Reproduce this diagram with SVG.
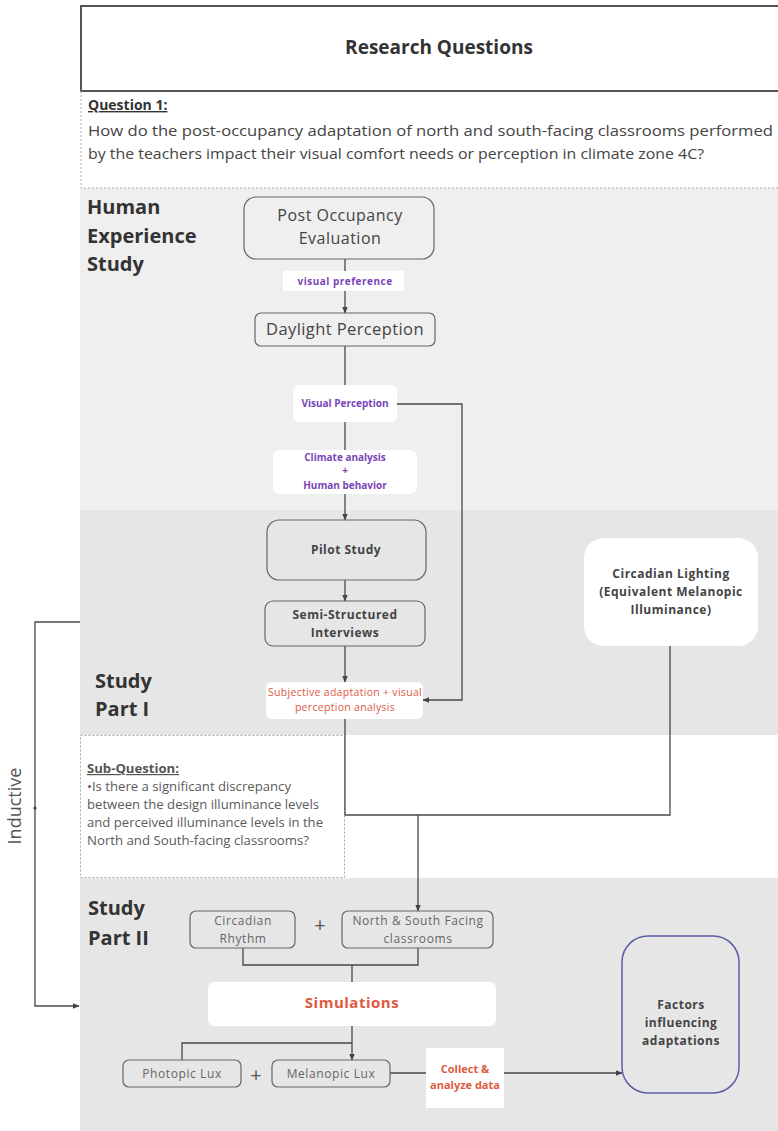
<svg xmlns="http://www.w3.org/2000/svg" width="778" height="1131" viewBox="0 0 778 1131">
<defs>
<marker id="arr" viewBox="0 0 10 10" refX="9" refY="5" markerWidth="7" markerHeight="7" orient="auto" markerUnits="userSpaceOnUse"><path d="M0,1 L10,5 L0,9 z" fill="#444"/></marker>
</defs>
<style>
text{font-family:"Open Sans","Liberation Sans",sans-serif;}
.node{fill:none;stroke:#666;stroke-width:1.2;}
.wbox{fill:#fff;stroke:none;}
.lbl{font-size:10px;font-weight:bold;fill:#7a45b8;text-anchor:middle;}
.red{fill:#e05a3f;text-anchor:middle;}
.nt{fill:#444;text-anchor:middle;}
.bt{fill:#444;font-weight:bold;font-size:12px;letter-spacing:0.5px;text-anchor:middle;}
.sec{fill:#333;font-weight:bold;font-size:20px;}
.gt{fill:#666;text-anchor:middle;font-size:12px;letter-spacing:0.6px;}
.sq{fill:#5a5a5a;font-size:12px;}
.conn{fill:none;stroke:#484848;stroke-width:1.3;}
</style>
<rect x="0" y="0" width="778" height="1131" fill="#fff"/>
<!-- sections -->
<rect x="80" y="188" width="698" height="322" fill="#efefef"/>
<rect x="80" y="510" width="698" height="225" fill="#e6e6e6"/>
<rect x="80" y="878" width="698" height="253" fill="#e6e6e6"/>
<!-- Research Questions header -->
<g id="header">
<rect x="81" y="6" width="700" height="85" fill="#fff" stroke="#555" stroke-width="2"/>
<text x="439" y="54" font-size="19" font-weight="bold" fill="#333" text-anchor="middle">Research Questions</text>
</g>
<g id="question1">
<path d="M81,91 V188 H778" fill="none" stroke="#aaa" stroke-width="1" stroke-dasharray="2,2"/>
<text x="88" y="110" font-size="14" font-weight="bold" fill="#333" text-decoration="underline">Question 1:</text>
<text x="88" y="136" font-size="14.5" fill="#444" textLength="685" lengthAdjust="spacingAndGlyphs">How do the post-occupancy adaptation of north and south-facing classrooms performed</text>
<text x="88" y="159" font-size="14.5" fill="#444" textLength="616" lengthAdjust="spacingAndGlyphs">by the teachers impact their visual comfort needs or perception in climate zone 4C?</text>
</g>
<!-- section labels -->
<g id="label-human">
<text class="sec" x="87" y="214">Human</text>
<text class="sec" x="87" y="243">Experience</text>
<text class="sec" x="87" y="271">Study</text>
</g>
<g id="label-part1">
<text class="sec" x="95" y="688">Study</text>
<text class="sec" x="95" y="716">Part I</text>
</g>
<g id="label-part2">
<text class="sec" x="88" y="915">Study</text>
<text class="sec" x="88" y="945">Part II</text>
</g>
<!-- Sub-question -->
<g id="subquestion">
<rect x="80.5" y="735.5" width="264" height="142" fill="#fff" stroke="#aaa" stroke-width="1" stroke-dasharray="2,2"/>
<text x="87" y="773" font-size="12" font-weight="bold" fill="#555" text-decoration="underline" textLength="92" lengthAdjust="spacingAndGlyphs">Sub-Question:</text>
<text class="sq" x="87" y="791" textLength="204" lengthAdjust="spacingAndGlyphs">•Is there a significant discrepancy</text>
<text class="sq" x="87" y="809" textLength="232" lengthAdjust="spacingAndGlyphs">between the design illuminance levels</text>
<text class="sq" x="87" y="827" textLength="236" lengthAdjust="spacingAndGlyphs">and perceived illuminance levels in the</text>
<text class="sq" x="87" y="845" textLength="222" lengthAdjust="spacingAndGlyphs">North and South-facing classrooms?</text>
</g>
<!-- connectors -->
<g id="connectors">
<path class="conn" d="M345,259 V313" marker-end="url(#arr)"/>
<path class="conn" d="M345,346 V385"/>
<path class="conn" d="M345,422 V450"/>
<path class="conn" d="M345,494 V520" marker-end="url(#arr)"/>
<path class="conn" d="M397,404 H462 V700 H423" marker-end="url(#arr)"/>
<path class="conn" d="M345,580 V601" marker-end="url(#arr)"/>
<path class="conn" d="M345,646 V682" marker-end="url(#arr)"/>
<path class="conn" d="M345,719 V815 H670 V646"/>
<path class="conn" d="M418,815 V911" marker-end="url(#arr)"/>
<path class="conn" d="M243,948 V965 H418 V948"/>
<path class="conn" d="M352,965 V982"/>
<path class="conn" d="M352,1026 V1060" marker-end="url(#arr)"/>
<path class="conn" d="M352,1043 H182 V1060"/>
<path class="conn" d="M390,1073 H426"/>
<path class="conn" d="M504,1073 H622" marker-end="url(#arr)"/>
<path class="conn" d="M80,622 H35 V1006 H79" marker-end="url(#arr)"/>
<circle cx="35" cy="808" r="1.6" fill="#444"/>
</g>
<g id="inductive">
<text x="21" y="806" font-size="18" fill="#555" text-anchor="middle" transform="rotate(-90 21 806)">Inductive</text>
</g>
<!-- nodes -->
<g id="post-occupancy">
<rect class="node" x="244" y="197" width="190" height="62" rx="12"/>
<text class="nt" x="340" y="221" font-size="16" letter-spacing="0.5">Post Occupancy</text>
<text class="nt" x="340" y="244" font-size="16" letter-spacing="0.5">Evaluation</text>
</g>
<g id="visual-preference">
<rect class="wbox" x="283" y="271" width="121" height="20"/>
<text class="lbl" x="345" y="285" letter-spacing="0.5">visual preference</text>
</g>
<g id="daylight-perception">
<rect class="node" x="255" y="313" width="180" height="33" rx="6"/>
<text class="nt" x="345" y="335" font-size="16.5" letter-spacing="0.4">Daylight Perception</text>
</g>
<g id="visual-perception">
<rect class="wbox" x="293" y="385" width="104" height="37" rx="6"/>
<text class="lbl" x="345" y="407" font-size="9.5">Visual Perception</text>
</g>
<g id="climate">
<rect class="wbox" x="273" y="450" width="144" height="44" rx="6"/>
<text class="lbl" x="345" y="461" font-size="9">Climate analysis</text>
<text class="lbl" x="345" y="474" font-size="8">+</text>
<text class="lbl" x="345" y="489" font-size="9">Human behavior</text>
</g>
<g id="pilot-study">
<rect class="node" x="267" y="520" width="159" height="60" rx="12"/>
<text class="bt" x="346" y="554">Pilot Study</text>
</g>
<g id="interviews">
<rect class="node" x="265" y="601" width="160" height="45" rx="8"/>
<text class="bt" x="345" y="619">Semi-Structured</text>
<text class="bt" x="345" y="637">Interviews</text>
</g>
<g id="subjective">
<rect class="wbox" x="266" y="682" width="157" height="37" rx="6"/>
<text class="red" x="345" y="696" font-size="10.5" letter-spacing="0.3">Subjective adaptation + visual</text>
<text class="red" x="345" y="711" font-size="10.5" letter-spacing="0.3">perception analysis</text>
</g>
<g id="circadian-lighting">
<rect class="wbox" x="584" y="538" width="174" height="108" rx="20"/>
<text class="bt" x="671" y="578">Circadian Lighting</text>
<text class="bt" x="671" y="596">(Equivalent Melanopic</text>
<text class="bt" x="671" y="614">Illuminance)</text>
</g>
<g id="circadian-rhythm">
<rect class="node" x="190" y="911" width="105" height="37" rx="6"/>
<text class="gt" x="243" y="925">Circadian</text>
<text class="gt" x="243" y="943">Rhythm</text>
</g>
<g id="plus1"><text x="320" y="932" font-size="20" fill="#555" text-anchor="middle">+</text></g>
<g id="north-south">
<rect class="node" x="342" y="911" width="151" height="37" rx="6"/>
<text class="gt" x="418" y="925">North &amp; South Facing</text>
<text class="gt" x="418" y="943">classrooms</text>
</g>
<g id="simulations">
<rect class="wbox" x="208" y="982" width="288" height="44" rx="6"/>
<text class="red" x="352" y="1008" font-size="15" font-weight="bold" letter-spacing="0.5">Simulations</text>
</g>
<g id="photopic">
<rect class="node" x="123" y="1060" width="118" height="27" rx="6"/>
<text class="gt" x="182" y="1078">Photopic Lux</text>
</g>
<g id="plus2"><text x="256" y="1082" font-size="20" fill="#555" text-anchor="middle">+</text></g>
<g id="melanopic">
<rect class="node" x="272" y="1060" width="118" height="27" rx="6"/>
<text class="gt" x="331" y="1078">Melanopic Lux</text>
</g>
<g id="collect">
<rect class="wbox" x="426" y="1048" width="78" height="60"/>
<text class="red" x="465" y="1073" font-size="11" font-weight="bold">Collect &amp;</text>
<text class="red" x="465" y="1089" font-size="11" font-weight="bold">analyze data</text>
</g>
<g id="factors">
<rect x="622" y="936" width="117" height="157" rx="26" fill="none" stroke="#5a5fa8" stroke-width="1.5"/>
<text class="bt" x="681" y="1009">Factors</text>
<text class="bt" x="681" y="1027">influencing</text>
<text class="bt" x="681" y="1045">adaptations</text>
</g>
</svg>
